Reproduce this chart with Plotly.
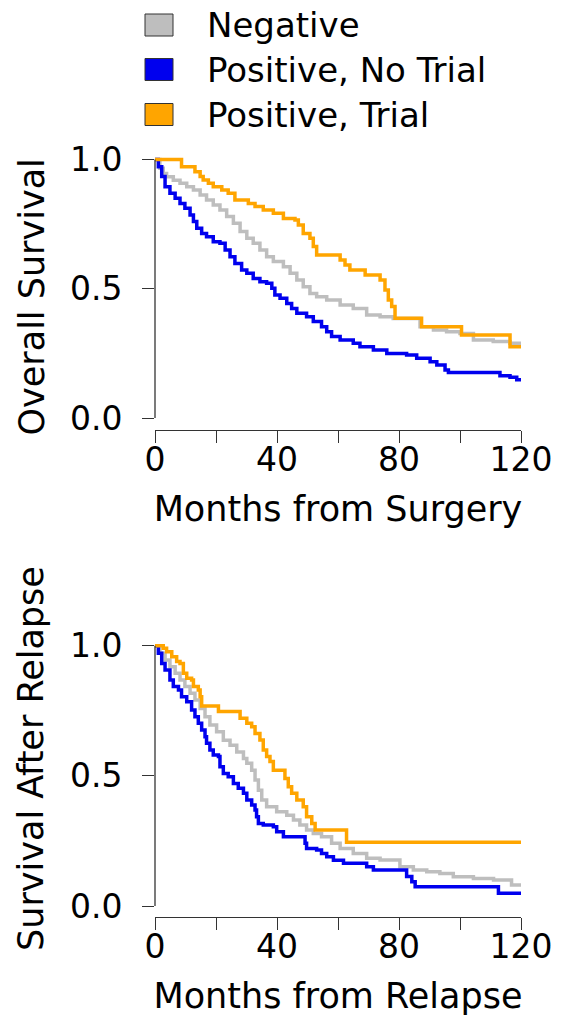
import plotly.graph_objects as go

W, H = 572, 1024

# ---------------- data ----------------
series_names = ["Negative", "Positive, No Trial", "Positive, Trial"]
series_colors = ["#BEBEBE", "#0000EE", "#FFA500"]

x_tick_vals = [0, 20, 40, 60, 80, 100, 120]
x_tick_text = ["0", "", "40", "", "80", "", "120"]
y_tick_vals = [0.0, 0.5, 1.0]
y_tick_text = ["0.0", "0.5", "1.0"]

top_x_title = "Months from Surgery"
top_y_title = "Overall Survival"
bot_x_title = "Months from Relapse"
bot_y_title = "Survival After Relapse"

# Overall survival (months from surgery)
os_neg_t = [0, 1.6, 2.7, 3.8, 6.0, 8.2, 10.4, 12.6, 14.8, 16.9,
            19.1, 21.3, 23.5, 25.7, 27.9, 30.1, 32.2, 34.4, 36.6, 38.8,
            42.1, 44.3, 46.5, 48.6, 50.8, 53.0, 56.3, 60.7, 65.0, 69.4,
            73.8, 78.1, 86.9, 91.3, 95.6, 100.0, 104.4, 110.9, 116.4, 120]
os_neg_s = [1.0, .966, .946, .933, .920, .908, .895, .882, .863, .843,
            .824, .805, .779, .753, .721, .695, .676, .650, .624, .605,
            .585, .560, .534, .508, .482, .469, .456, .437, .424, .398,
            .392, .385, .353, .340, .334, .327, .302, .296, .289, .276]

os_pnt_t = [0, 1.1, 2.2, 3.3, 4.9, 6.6, 8.2, 9.8, 11.5, 12.6,
            13.7, 15.3, 16.9, 19.1, 21.3, 23.0, 24.6, 26.2, 28.4, 30.1,
            32.2, 34.4, 36.6, 38.3, 39.3, 41.0, 43.2, 44.8, 46.5, 49.7,
            51.9, 54.6, 56.3, 57.9, 60.7, 65.0, 67.2, 71.6, 76.0, 82.5,
            85.8, 90.2, 92.4, 95.1, 96.2, 113.1, 116.4, 118.6, 120]
os_pnt_s = [1.0, .972, .934, .895, .869, .850, .830, .811, .785, .760,
            .734, .714, .701, .682, .676, .650, .624, .598, .573, .560,
            .540, .527, .521, .502, .476, .463, .443, .424, .405, .392,
            .373, .353, .334, .315, .302, .289, .276, .263, .250, .244,
            .231, .218, .205, .186, .176, .163, .158, .148, .142]

os_pt_t = [0, 8.7, 13.1, 14.8, 15.8, 17.5, 19.1, 21.9, 24.0, 26.2,
           30.6, 32.8, 35.5, 38.8, 42.1, 45.9, 47.0, 48.6, 50.8, 51.9,
           53.0, 60.7, 62.3, 63.9, 68.9, 73.8, 75.4, 76.5, 77.6, 78.7,
           87.4, 100.5, 116.4, 120]
os_pt_s = [1.0, .972, .953, .934, .921, .908, .895, .882, .869, .843,
           .830, .818, .805, .792, .772, .766, .747, .714, .695, .663,
           .631, .611, .592, .573, .553, .534, .495, .456, .431, .386,
           .353, .321, .276, .276]

# Survival after relapse (months from relapse)
rel_neg_t = [0, 1.6, 3.3, 4.9, 6.6, 8.2, 9.8, 11.5, 13.1, 14.8,
             16.4, 18.0, 20.2, 22.4, 24.6, 26.8, 29.0, 30.1, 31.7, 32.8,
             33.9, 35.0, 36.6, 39.9, 43.2, 45.4, 47.5, 49.7, 51.9, 54.6,
             57.9, 60.7, 65.0, 69.4, 73.8, 80.3, 84.7, 89.1, 93.4, 97.8,
             104.4, 111.0, 116.9, 120]
rel_neg_s = [1.0, .971, .945, .919, .894, .868, .843, .817, .791, .759,
             .727, .695, .669, .637, .618, .592, .567, .548, .522, .484,
             .445, .407, .381, .362, .349, .330, .311, .292, .279, .266,
             .241, .221, .202, .183, .177, .151, .138, .132, .125, .112,
             .106, .100, .081, .081]

rel_pnt_t = [0, 1.1, 2.2, 3.3, 4.9, 6.0, 7.7, 8.7, 10.4, 12.0,
             13.1, 14.2, 15.3, 16.4, 16.9, 18.0, 19.1, 20.8, 21.3, 22.4,
             24.0, 25.7, 27.3, 29.0, 30.1, 31.7, 32.8, 33.3, 33.9, 35.5,
             38.8, 39.9, 42.1, 49.2, 49.7, 53.0, 54.6, 56.3, 58.5, 61.8,
             69.4, 71.6, 82.5, 84.2, 85.3, 112.6, 120]
rel_pnt_s = [1.0, .971, .932, .907, .868, .843, .830, .804, .785, .753,
             .727, .702, .676, .650, .625, .599, .580, .574, .535, .509,
             .497, .471, .452, .433, .407, .388, .369, .343, .317, .311,
             .304, .285, .266, .241, .221, .215, .202, .189, .176, .164,
             .151, .138, .113, .093, .074, .049, .049]

rel_pt_t = [0, 2.7, 3.8, 5.5, 7.1, 8.2, 9.3, 10.4, 12.0, 12.6,
            14.2, 14.8, 15.3, 20.8, 27.9, 30.1, 31.7, 32.8, 34.4, 35.5,
            36.6, 37.7, 38.8, 42.6, 43.7, 44.8, 46.5, 48.6, 49.7, 51.4,
            52.5, 62.8, 120]
rel_pt_s = [1.0, .990, .977, .958, .939, .932, .894, .875, .868, .843,
            .830, .804, .768, .747, .721, .702, .689, .663, .638, .599,
            .574, .555, .522, .490, .458, .433, .407, .381, .343, .317,
            .292, .245, .245]

top_series = [(os_neg_t, os_neg_s), (os_pnt_t, os_pnt_s), (os_pt_t, os_pt_s)]
bot_series = [(rel_neg_t, rel_neg_s), (rel_pnt_t, rel_pnt_s), (rel_pt_t, rel_pt_s)]

# ---------------- styling / layout helpers ----------------
FONT = "DejaVu Sans"
AX = "#333333"
TICK_SIZE = 33
TITLE_SIZE = 35
LEG_SIZE = 34
LW = 3.5


def px_x(p):
    """window pixel -> paper x"""
    return p / W


def px_y(p):
    """window pixel -> paper y"""
    return 1 - p / H


fig = go.Figure()

for (t, s), name, col in zip(top_series, series_names, series_colors):
    fig.add_trace(go.Scatter(x=t, y=s, mode="lines", name=name,
                             line=dict(color=col, width=LW, shape="hv"),
                             xaxis="x", yaxis="y", showlegend=False))
for (t, s), name, col in zip(bot_series, series_names, series_colors):
    fig.add_trace(go.Scatter(x=t, y=s, mode="lines", name=name,
                             line=dict(color=col, width=LW, shape="hv"),
                             xaxis="x2", yaxis="y2", showlegend=False))

x_dom = [px_x(155), px_x(521)]


def xaxis(anchor, title):
    return dict(domain=x_dom, range=[0, 120], anchor=anchor, automargin=False,
                showline=True, linecolor=AX, linewidth=1.3,
                ticks="outside", ticklen=12, tickwidth=1.3, tickcolor=AX,
                tickmode="array", tickvals=x_tick_vals, ticktext=x_tick_text,
                tickfont=dict(family=FONT, size=TICK_SIZE, color="black"),
                ticklabelstandoff=-12,
                showgrid=False, zeroline=False,
                title=dict(text=title, standoff=18,
                           font=dict(family=FONT, size=TITLE_SIZE, color="black")))


def yaxis(anchor, dom, rng):
    return dict(domain=dom, range=rng, anchor=anchor, automargin=False,
                showline=False, ticks="outside", ticklen=12, tickwidth=1.3,
                tickcolor=AX, tickmode="array", tickvals=y_tick_vals,
                ticktext=y_tick_text, ticklabelstandoff=13,
                tickfont=dict(family=FONT, size=TICK_SIZE, color="black"),
                showgrid=False, zeroline=False)


fig.update_layout(
    width=W, height=H, margin=dict(l=0, r=0, t=0, b=0, autoexpand=False),
    paper_bgcolor="white", plot_bgcolor="white", showlegend=False,
    xaxis=xaxis("y", top_x_title),
    yaxis=yaxis("x", [px_y(430), px_y(149.2)], [-0.0464, 1.0398]),
    xaxis2=xaxis("y2", bot_x_title),
    yaxis2=yaxis("x2", [px_y(917.3), px_y(635.3)], [-0.0434, 1.04]),
)

shapes = [
    dict(type="line", xref="x domain", yref="y", x0=0, x1=0, y0=0, y1=1,
         line=dict(color=AX, width=1.3)),
    dict(type="line", xref="x2 domain", yref="y2", x0=0, x1=0, y0=0, y1=1,
         line=dict(color=AX, width=1.3)),
]
annotations = [
    dict(text=top_y_title, xref="paper", yref="paper", x=px_x(31), y=px_y(297.5),
         textangle=-90, showarrow=False, xanchor="center", yanchor="middle",
         font=dict(family=FONT, size=TITLE_SIZE, color="black")),
    dict(text=bot_y_title, xref="paper", yref="paper", x=px_x(31), y=px_y(759),
         textangle=-90, showarrow=False, xanchor="center", yanchor="middle",
         font=dict(family=FONT, size=TITLE_SIZE, color="black")),
]

# legend (drawn as boxes + labels at top)
leg_centers = [25, 69.5, 114.5]
for name, col, cy in zip(series_names, series_colors, leg_centers):
    shapes.append(dict(type="rect", xref="paper", yref="paper",
                       x0=px_x(145), x1=px_x(173), y0=px_y(cy + 11), y1=px_y(cy - 11),
                       fillcolor=col, line=dict(color=AX, width=1)))
    annotations.append(dict(text=name, xref="paper", yref="paper",
                            x=px_x(206), y=px_y(cy), xanchor="left", yanchor="middle",
                            showarrow=False, borderpad=0,
                            font=dict(family=FONT, size=LEG_SIZE, color="black")))

fig.update_layout(shapes=shapes, annotations=annotations)

# remove the default 8px page margin so the figure fills the window exactly
fig.write_html("out.html",
               config={"displayModeBar": False},
               post_script="document.body.style.margin='0';document.body.style.padding='0';")
